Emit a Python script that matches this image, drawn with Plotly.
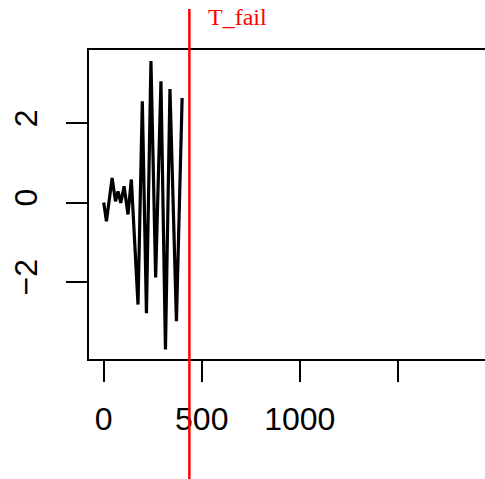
import plotly.graph_objects as go

# Series
t_values = [0, 14, 43, 60, 73, 87, 104, 124, 141, 175, 197, 218, 241, 265, 292, 315, 338, 371, 400]
y_values = [0.0, -0.47, 0.62, 0.03, 0.28, -0.01, 0.41, -0.30, 0.58, -2.57, 2.55, -2.79, 3.56, -1.89, 3.05, -3.70, 2.86, -2.99, 2.63]
t_fail = 437
x_tick_vals = [0, 500, 1000, 1500]
x_tick_text = ["0", "500", "1000", ""]
y_tick_vals = [-2, 0, 2]
y_tick_text = ["\u22122", "0", "2"]

fig = go.Figure()
fig.add_trace(go.Scatter(x=t_values, y=y_values, mode="lines",
                         line=dict(color="black", width=3.2), showlegend=False))

fig.add_shape(type="line", xref="x", yref="paper", x0=t_fail, x1=t_fail,
              y0=-0.5, y1=1.133, line=dict(color="#ff0000", width=2.5), layer="above")
fig.add_annotation(x=t_fail + 84, y=1.107, xref="x", yref="paper", text="T_fail",
                   showarrow=False, xanchor="left", yanchor="middle",
                   font=dict(family="Liberation Serif", size=24, color="#ff0000"))

axis_font = dict(family="Liberation Sans", size=32, color="black")
fig.update_layout(
    width=485, height=479,
    margin=dict(l=89, r=0, t=50, b=120),
    paper_bgcolor="white", plot_bgcolor="white",
    xaxis=dict(range=[-75, 1945], tickvals=x_tick_vals, ticktext=x_tick_text,
               showgrid=False, zeroline=False, showline=True, linecolor="black",
               linewidth=2, mirror=True, ticks="outside", ticklen=21, tickwidth=2,
               tickcolor="black", tickfont=axis_font, ticklabelstandoff=10),
    yaxis=dict(range=[-3.94, 3.84], tickvals=y_tick_vals, ticktext=y_tick_text,
               showgrid=False, zeroline=False, showline=True, linecolor="black",
               linewidth=2, ticks="outside", ticklen=21, tickwidth=2,
               tickcolor="black", tickfont=axis_font, tickangle=-90,
               ticklabelstandoff=16),
)

fig.write_html("out.html", config={"displayModeBar": False},
               post_script="document.body.style.margin='0px';")
